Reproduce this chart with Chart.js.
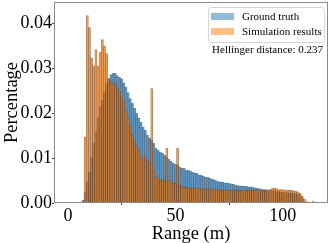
<!DOCTYPE html>
<html>
<head>
<meta charset="utf-8">
<script src="https://cdn.jsdelivr.net/npm/chart.js@4/dist/chart.umd.min.js"></script>
<style>
  html, body { margin: 0; padding: 0; background: #fff; }
  #wrap { width: 332px; height: 243px; position: relative; }
</style>
</head>
<body>
<div id="wrap"><canvas id="grafico"></canvas></div>
<script>
// centros dos bins (m), largura de 1 m
const binCenters = [];
for (let k = 6; k <= 114; k++) binCenters.push(k);

// Ground truth (k = 6 .. 114)
const groundTruth = [
  0.0002, 0.0006, 0.0024, 0.0047, 0.0069, 0.0102, 0.0133, 0.0158, 0.0190, 0.0213,
  0.0229, 0.0247, 0.0266, 0.0277, 0.0286, 0.0289, 0.0289, 0.0284, 0.0280, 0.0277,
  0.0268, 0.0258, 0.0246, 0.0233, 0.0222, 0.0211, 0.0200, 0.0190, 0.0180, 0.0169,
  0.0162, 0.0151, 0.0144, 0.0140, 0.0133, 0.0122, 0.0118, 0.0113, 0.0111, 0.0107,
  0.0102, 0.0098, 0.0093, 0.0089, 0.0087, 0.0084, 0.0080, 0.0078, 0.0078, 0.0073,
  0.0073, 0.0071, 0.0069, 0.0067, 0.0066, 0.0063, 0.0062, 0.0060, 0.0058, 0.0057,
  0.0055, 0.0054, 0.0052, 0.0050, 0.0048, 0.0047, 0.0046, 0.0045, 0.0045, 0.0044,
  0.0043, 0.0042, 0.0040, 0.0039, 0.0038, 0.0038, 0.0037, 0.0037, 0.0036, 0.0036,
  0.0035, 0.0034, 0.0033, 0.0032, 0.0031, 0.0030, 0.0030, 0.0029, 0.0029, 0.0028,
  0.0027, 0.0026, 0.0025, 0.0024, 0.0024, 0.0023, 0.0023, 0.0022, 0.0022, 0.0021,
  0.0021, 0.0020, 0.0019, 0.0012, 0.0003, 0, 0, 0, 0
];

// Simulation results (k = 6 .. 114)
const simulation = [
  0, 0, 0.0147, 0.0418, 0.0391, 0.0323, 0.0306, 0.0342, 0.0305, 0.0336,
  0.0364, 0.0350, 0.0333, 0.0278, 0.0270, 0.0267, 0.0264, 0.0256, 0.0248, 0.0236,
  0.0225, 0.0205, 0.0189, 0.0172, 0.0152, 0.0138, 0.0128, 0.0117, 0.0106, 0.0096,
  0.0105, 0.0094, 0.0089, 0.0255, 0.0073, 0.0058, 0.0056, 0.0051, 0.0051, 0.0050,
  0.0122, 0.0047, 0.0051, 0.0044, 0.0044, 0.0122, 0.0040, 0.0037, 0.0035, 0.0035,
  0.0034, 0.0033, 0.0034, 0.0033, 0.0032, 0.0033, 0.0032, 0.0031, 0.0032, 0.0031,
  0.0031, 0.0032, 0.0031, 0.0030, 0.0030, 0.0029, 0.0029, 0.0030, 0.0028, 0.0029,
  0.0028, 0.0029, 0.0028, 0.0028, 0.0029, 0.0028, 0.0029, 0.0028, 0.0029, 0.0028,
  0.0029, 0.0029, 0.0028, 0.0029, 0.0029, 0.0028, 0.0029, 0.0029, 0.0030, 0.0032,
  0.0033, 0.0032, 0.0030, 0.0030, 0.0030, 0.0029, 0.0029, 0.0029, 0.0028, 0.0027,
  0.0026, 0.0025, 0.0022, 0.0016, 0.0008, 0.0003, 0, 0, 0.0004
];

const xTicks = [0, 50, 100];
const yTicks = [0, 0.01, 0.02, 0.03, 0.04];
const hellinger = 'Hellinger distance: 0.237';

const fonte = 'Liberation Serif, Times New Roman, serif';
const azul = 'rgba(31,119,180,0.6)';
const laranja = 'rgba(255,127,14,0.6)';
const azulLegenda = 'rgba(31,119,180,0.5)';
const laranjaLegenda = 'rgba(255,127,14,0.5)';

// legenda, caixa dos eixos e texto da distância
const extras = {
  id: 'extras',
  afterDraw(chart) {
    const { ctx, chartArea: a } = chart;
    ctx.save();
    ctx.strokeStyle = '#8a8a8a';
    ctx.lineWidth = 1;
    ctx.strokeRect(a.left + 0.5, a.top + 0.5, a.right - a.left - 1, a.bottom - a.top - 1);

    // caixa da legenda
    const lx = a.right - 120, ly = a.top + 5, lw = 116, lh = 35;
    ctx.beginPath();
    ctx.roundRect(lx + 0.5, ly + 0.5, lw, lh, 3);
    ctx.fillStyle = 'rgba(255,255,255,0.8)';
    ctx.fill();
    ctx.strokeStyle = '#d6d6d6';
    ctx.stroke();

    const itens = [
      { cor: azulLegenda, texto: 'Ground truth' },
      { cor: laranjaLegenda, texto: 'Simulation results' },
    ];
    ctx.font = '11px ' + fonte;
    ctx.textBaseline = 'middle';
    ctx.textAlign = 'left';
    itens.forEach((it, i) => {
      const cy = ly + 9.5 + i * 15;
      ctx.fillStyle = it.cor;
      ctx.fillRect(lx + 3, cy - 3.5, 23, 7);
      ctx.fillStyle = '#000';
      ctx.fillText(it.texto, lx + 34, cy + 0.5);
    });

    ctx.textAlign = 'right';
    ctx.fillText(hellinger, a.right - 5, a.top + 48);
    ctx.restore();
  }
};

new Chart(document.getElementById('grafico'), {
  type: 'bar',
  data: {
    datasets: [
      {
        label: 'Ground truth',
        data: binCenters.map((x, i) => ({ x, y: groundTruth[i] })),
        backgroundColor: azul,
        borderColor: 'rgba(20,40,70,0.5)',
        borderWidth: 0.5,
        order: 2,
      },
      {
        label: 'Simulation results',
        data: binCenters.map((x, i) => ({ x, y: simulation[i] })),
        backgroundColor: laranja,
        borderColor: 'rgba(70,35,10,0.5)',
        borderWidth: 0.5,
        order: 1,
      },
    ],
  },
  options: {
    responsive: true,
    maintainAspectRatio: false,
    animation: false,
    grouped: false,
    barPercentage: 1,
    categoryPercentage: 1,
    layout: { padding: { top: 2, right: 4, left: 0, bottom: 0 } },
    plugins: { legend: { display: false }, tooltip: { enabled: false } },
    scales: {
      x: {
        type: 'linear',
        min: -6.5,
        max: 121,
        offset: false,
        afterBuildTicks: (s) => { s.ticks = xTicks.map(v => ({ value: v })); },
        afterFit: (s) => { s.height = 40; s.paddingLeft = 0; s.paddingRight = 0; },
        grid: { display: true, drawOnChartArea: false, drawTicks: true, tickLength: 2, color: '#444' },
        border: { display: false },
        ticks: { font: { family: fonte, size: 18 }, color: '#000', padding: 0, maxRotation: 0 },
        title: { display: true, text: 'Range (m)', font: { family: fonte, size: 18.5 }, color: '#000', padding: { top: 0, bottom: -2 } },
      },
      y: {
        min: 0,
        max: 0.0448,
        afterBuildTicks: (s) => { s.ticks = yTicks.map(v => ({ value: v })); },
        afterFit: (s) => { s.width = 54; s.paddingTop = 0; s.paddingBottom = 0; },
        grid: { display: true, drawOnChartArea: false, drawTicks: true, tickLength: 2, color: '#444' },
        border: { display: false },
        ticks: { font: { family: fonte, size: 18 }, color: '#000', padding: 0, callback: (v) => v.toFixed(2) },
        title: { display: true, text: 'Percentage', font: { family: fonte, size: 18.5 }, color: '#000', padding: { top: 1, bottom: 0 } },
      },
    },
  },
  plugins: [extras],
});
</script>
</body>
</html>
